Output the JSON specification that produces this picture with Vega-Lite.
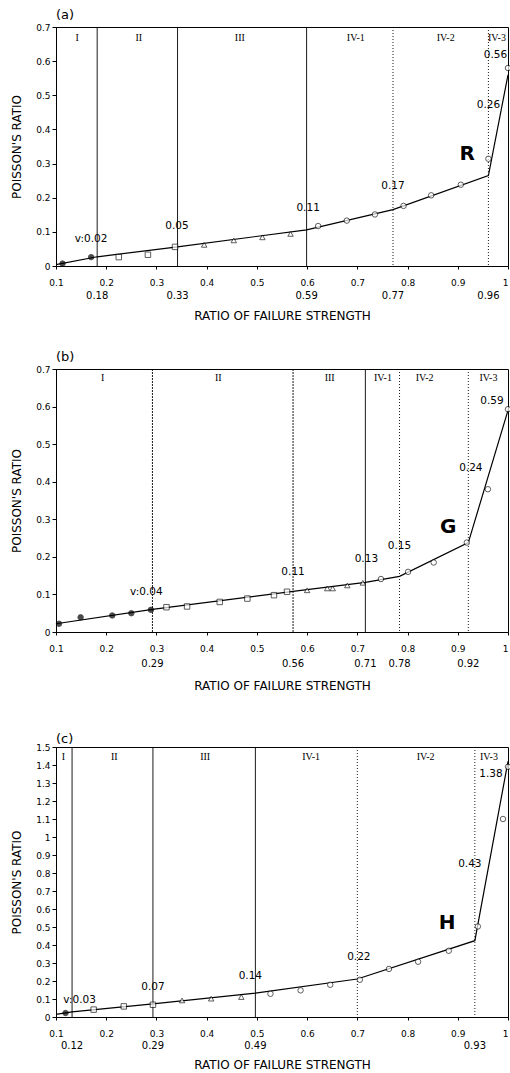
{
  "$schema": "https://vega.github.io/schema/vega-lite/v6.json",
  "background": "white",
  "padding": {"left": 10, "top": 8, "right": 0, "bottom": 0},
  "spacing": 28,
  "config": {
    "view": {"stroke": "#000", "strokeWidth": 1},
    "axis": {"domainColor": "#000", "tickColor": "#000", "labelColor": "#000", "titleColor": "#000", "labelFont": "DejaVu Sans", "titleFont": "DejaVu Sans", "titleFontWeight": "normal", "labelFontSize": 9, "titleFontSize": 12, "grid": false, "labelOverlap": false, "labelBound": false, "labelFlush": false, "labelSeparation": 0, "ticks": true, "tickWidth": 1},
    "axisX": {"tickSize": 3, "labelPadding": 9},
    "axisY": {"tickSize": 4, "labelPadding": 2, "labelOverlap": false, "labelLineHeight": 9},
    "text": {"font": "DejaVu Sans", "color": "#000"},
    "title": {"font": "DejaVu Sans", "fontSize": 13, "fontWeight": "normal", "anchor": "start", "frame": "group", "offset": 1, "color": "#000"}
  },
  "datasets": {
    "points": [
      {"panel": "a", "x": 0.113, "y": 0.007, "stage": "I"},
      {"panel": "a", "x": 0.170, "y": 0.026, "stage": "I"},
      {"panel": "a", "x": 0.225, "y": 0.026, "stage": "II"},
      {"panel": "a", "x": 0.283, "y": 0.033, "stage": "II"},
      {"panel": "a", "x": 0.337, "y": 0.056, "stage": "II"},
      {"panel": "a", "x": 0.395, "y": 0.062, "stage": "III"},
      {"panel": "a", "x": 0.454, "y": 0.075, "stage": "III"},
      {"panel": "a", "x": 0.511, "y": 0.084, "stage": "III"},
      {"panel": "a", "x": 0.567, "y": 0.094, "stage": "III"},
      {"panel": "a", "x": 0.622, "y": 0.117, "stage": "IV"},
      {"panel": "a", "x": 0.679, "y": 0.133, "stage": "IV"},
      {"panel": "a", "x": 0.735, "y": 0.151, "stage": "IV"},
      {"panel": "a", "x": 0.792, "y": 0.176, "stage": "IV"},
      {"panel": "a", "x": 0.847, "y": 0.207, "stage": "IV"},
      {"panel": "a", "x": 0.906, "y": 0.238, "stage": "IV"},
      {"panel": "a", "x": 0.961, "y": 0.314, "stage": "IV"},
      {"panel": "a", "x": 1.0, "y": 0.58, "stage": "IV"},
      {"panel": "b", "x": 0.106, "y": 0.022, "stage": "I"},
      {"panel": "b", "x": 0.149, "y": 0.039, "stage": "I"},
      {"panel": "b", "x": 0.212, "y": 0.044, "stage": "I"},
      {"panel": "b", "x": 0.250, "y": 0.050, "stage": "I"},
      {"panel": "b", "x": 0.289, "y": 0.059, "stage": "I"},
      {"panel": "b", "x": 0.320, "y": 0.066, "stage": "II"},
      {"panel": "b", "x": 0.361, "y": 0.068, "stage": "II"},
      {"panel": "b", "x": 0.426, "y": 0.080, "stage": "II"},
      {"panel": "b", "x": 0.481, "y": 0.089, "stage": "II"},
      {"panel": "b", "x": 0.534, "y": 0.098, "stage": "II"},
      {"panel": "b", "x": 0.560, "y": 0.107, "stage": "II"},
      {"panel": "b", "x": 0.600, "y": 0.111, "stage": "III"},
      {"panel": "b", "x": 0.640, "y": 0.116, "stage": "III"},
      {"panel": "b", "x": 0.651, "y": 0.116, "stage": "III"},
      {"panel": "b", "x": 0.680, "y": 0.124, "stage": "III"},
      {"panel": "b", "x": 0.711, "y": 0.131, "stage": "III"},
      {"panel": "b", "x": 0.747, "y": 0.141, "stage": "IV"},
      {"panel": "b", "x": 0.801, "y": 0.160, "stage": "IV"},
      {"panel": "b", "x": 0.852, "y": 0.185, "stage": "IV"},
      {"panel": "b", "x": 0.918, "y": 0.238, "stage": "IV"},
      {"panel": "b", "x": 0.960, "y": 0.380, "stage": "IV"},
      {"panel": "b", "x": 1.0, "y": 0.593, "stage": "IV"},
      {"panel": "c", "x": 0.119, "y": 0.022, "stage": "I"},
      {"panel": "c", "x": 0.175, "y": 0.041, "stage": "II"},
      {"panel": "c", "x": 0.235, "y": 0.059, "stage": "II"},
      {"panel": "c", "x": 0.293, "y": 0.068, "stage": "II"},
      {"panel": "c", "x": 0.351, "y": 0.092, "stage": "III"},
      {"panel": "c", "x": 0.409, "y": 0.102, "stage": "III"},
      {"panel": "c", "x": 0.469, "y": 0.111, "stage": "III"},
      {"panel": "c", "x": 0.527, "y": 0.129, "stage": "IV"},
      {"panel": "c", "x": 0.587, "y": 0.148, "stage": "IV"},
      {"panel": "c", "x": 0.646, "y": 0.179, "stage": "IV"},
      {"panel": "c", "x": 0.705, "y": 0.207, "stage": "IV"},
      {"panel": "c", "x": 0.763, "y": 0.267, "stage": "IV"},
      {"panel": "c", "x": 0.821, "y": 0.307, "stage": "IV"},
      {"panel": "c", "x": 0.882, "y": 0.368, "stage": "IV"},
      {"panel": "c", "x": 0.940, "y": 0.503, "stage": "IV"},
      {"panel": "c", "x": 0.990, "y": 1.10, "stage": "IV"},
      {"panel": "c", "x": 1.0, "y": 1.39, "stage": "IV"}
    ],
    "curve": [
      {"panel": "a", "x": 0.1, "y": 0.004},
      {"panel": "a", "x": 0.182, "y": 0.027},
      {"panel": "a", "x": 0.342, "y": 0.056},
      {"panel": "a", "x": 0.599, "y": 0.106},
      {"panel": "a", "x": 0.771, "y": 0.165},
      {"panel": "a", "x": 0.961, "y": 0.265},
      {"panel": "a", "x": 1.0, "y": 0.56},
      {"panel": "b", "x": 0.1, "y": 0.022},
      {"panel": "b", "x": 0.292, "y": 0.060},
      {"panel": "b", "x": 0.572, "y": 0.108},
      {"panel": "b", "x": 0.716, "y": 0.132},
      {"panel": "b", "x": 0.784, "y": 0.148},
      {"panel": "b", "x": 0.921, "y": 0.238},
      {"panel": "b", "x": 1.0, "y": 0.59},
      {"panel": "c", "x": 0.1, "y": 0.015},
      {"panel": "c", "x": 0.132, "y": 0.028},
      {"panel": "c", "x": 0.293, "y": 0.073},
      {"panel": "c", "x": 0.497, "y": 0.133},
      {"panel": "c", "x": 0.7, "y": 0.211},
      {"panel": "c", "x": 0.934, "y": 0.424},
      {"panel": "c", "x": 1.0, "y": 1.42}
    ],
    "bounds": [
      {"panel": "a", "x": 0.182, "label": "0.18", "kind": "major"},
      {"panel": "a", "x": 0.342, "label": "0.33", "kind": "major"},
      {"panel": "a", "x": 0.599, "label": "0.59", "kind": "major"},
      {"panel": "a", "x": 0.771, "label": "0.77", "kind": "minor"},
      {"panel": "a", "x": 0.961, "label": "0.96", "kind": "minor"},
      {"panel": "b", "x": 0.292, "label": "0.29", "kind": "faint"},
      {"panel": "b", "x": 0.572, "label": "0.56", "kind": "faint"},
      {"panel": "b", "x": 0.716, "label": "0.71", "kind": "major"},
      {"panel": "b", "x": 0.784, "label": "0.78", "kind": "minor"},
      {"panel": "b", "x": 0.921, "label": "0.92", "kind": "minor"},
      {"panel": "c", "x": 0.132, "label": "0.12", "kind": "major"},
      {"panel": "c", "x": 0.293, "label": "0.29", "kind": "major"},
      {"panel": "c", "x": 0.497, "label": "0.49", "kind": "major"},
      {"panel": "c", "x": 0.7, "label": "", "kind": "minor"},
      {"panel": "c", "x": 0.934, "label": "0.93", "kind": "minor"}
    ],
    "regions": [
      {"panel": "a", "x": 0.142, "label": "I"},
      {"panel": "a", "x": 0.265, "label": "II"},
      {"panel": "a", "x": 0.466, "label": "III"},
      {"panel": "a", "x": 0.697, "label": "IV-1"},
      {"panel": "a", "x": 0.876, "label": "IV-2"},
      {"panel": "a", "x": 0.978, "label": "IV-3"},
      {"panel": "b", "x": 0.193, "label": "I"},
      {"panel": "b", "x": 0.423, "label": "II"},
      {"panel": "b", "x": 0.645, "label": "III"},
      {"panel": "b", "x": 0.751, "label": "IV-1"},
      {"panel": "b", "x": 0.834, "label": "IV-2"},
      {"panel": "b", "x": 0.961, "label": "IV-3"},
      {"panel": "c", "x": 0.115, "label": "I"},
      {"panel": "c", "x": 0.216, "label": "II"},
      {"panel": "c", "x": 0.397, "label": "III"},
      {"panel": "c", "x": 0.608, "label": "IV-1"},
      {"panel": "c", "x": 0.836, "label": "IV-2"},
      {"panel": "c", "x": 0.962, "label": "IV-3"}
    ],
    "vlabels": [
      {"panel": "a", "x": 0.170, "y": 0.080, "text": "v:0.02"},
      {"panel": "a", "x": 0.341, "y": 0.118, "text": "0.05"},
      {"panel": "a", "x": 0.602, "y": 0.170, "text": "0.11"},
      {"panel": "a", "x": 0.771, "y": 0.234, "text": "0.17"},
      {"panel": "a", "x": 0.961, "y": 0.472, "text": "0.26"},
      {"panel": "a", "x": 0.975, "y": 0.618, "text": "0.56"},
      {"panel": "b", "x": 0.280, "y": 0.107, "text": "v:0.04"},
      {"panel": "b", "x": 0.572, "y": 0.160, "text": "0.11"},
      {"panel": "b", "x": 0.718, "y": 0.195, "text": "0.13"},
      {"panel": "b", "x": 0.784, "y": 0.229, "text": "0.15"},
      {"panel": "b", "x": 0.926, "y": 0.436, "text": "0.24"},
      {"panel": "b", "x": 0.968, "y": 0.615, "text": "0.59"},
      {"panel": "c", "x": 0.147, "y": 0.095, "text": "v:0.03"},
      {"panel": "c", "x": 0.293, "y": 0.165, "text": "0.07"},
      {"panel": "c", "x": 0.487, "y": 0.226, "text": "0.14"},
      {"panel": "c", "x": 0.703, "y": 0.333, "text": "0.22"},
      {"panel": "c", "x": 0.924, "y": 0.852, "text": "0.43"},
      {"panel": "c", "x": 0.966, "y": 1.35, "text": "1.38"}
    ],
    "letters": [
      {"panel": "a", "x": 0.919, "y": 0.329, "text": "R"},
      {"panel": "b", "x": 0.881, "y": 0.280, "text": "G"},
      {"panel": "c", "x": 0.879, "y": 0.522, "text": "H"}
    ]
  },
  "vconcat": [
    {
      "title": {"text": "(a)"},
      "width": 452,
      "height": 239,
      "layer": [
        {"data": {"name": "curve"}, "transform": [{"filter": "datum.panel == 'a'"}],
         "mark": {"type": "line", "color": "#000", "strokeWidth": 1.2},
         "encoding": {
           "x": {"field": "x", "type": "quantitative", "title": "RATIO OF FAILURE STRENGTH", "scale": {"domain": [0.1, 1], "nice": false},
                 "axis": {"values": [0.1, 0.2, 0.3, 0.4, 0.5, 0.6, 0.7, 0.8, 0.9, 1], "format": "~g", "titlePadding": 23, "labelOverlap": false,
                          "labelAlign": {"condition": {"test": "datum.value >= 1", "value": "right"}, "value": "center"}}},
           "y": {"field": "y", "type": "quantitative", "title": "POISSON'S RATIO", "scale": {"domain": [0, 0.7], "nice": false},
                 "axis": {"values": [0, 0.1, 0.2, 0.3, 0.4, 0.5, 0.6, 0.7], "tickCount": 8, "format": "~g", "titlePadding": 12, "labelOverlap": false}}
         }},
        {"data": {"name": "bounds"}, "transform": [{"filter": "datum.panel == 'a'"}],
         "mark": {"type": "rule", "color": "#000", "strokeWidth": 0.9},
         "encoding": {
           "x": {"field": "x", "type": "quantitative", "title": "RATIO OF FAILURE STRENGTH", "scale": {"domain": [0.1, 1], "nice": false}},
           "strokeDash": {"field": "kind", "type": "nominal", "scale": {"domain": ["major", "minor", "faint"], "range": [[1, 0], [1, 2], [2, 1]]}, "legend": null}
         }},
        {"data": {"name": "bounds"}, "transform": [{"filter": "datum.panel == 'a'"}],
         "mark": {"type": "text", "fontSize": 10, "dy": 30, "baseline": "middle"},
         "encoding": {
           "x": {"field": "x", "type": "quantitative", "title": "RATIO OF FAILURE STRENGTH", "scale": {"domain": [0.1, 1], "nice": false}},
           "y": {"datum": 0, "type": "quantitative", "title": "POISSON'S RATIO", "scale": {"domain": [0, 0.7], "nice": false}},
           "text": {"field": "label"}
         }},
        {"data": {"name": "points"}, "transform": [{"filter": "datum.panel == 'a'"}],
         "mark": {"type": "point", "filled": true, "size": 30, "stroke": "#000", "strokeWidth": 0.9},
         "encoding": {
           "x": {"field": "x", "type": "quantitative", "title": "RATIO OF FAILURE STRENGTH", "scale": {"domain": [0.1, 1], "nice": false}},
           "y": {"field": "y", "type": "quantitative", "title": "POISSON'S RATIO", "scale": {"domain": [0, 0.7], "nice": false}},
           "shape": {"field": "stage", "type": "nominal", "scale": {"domain": ["I", "II", "III", "IV"], "range": ["circle", "square", "triangle-up", "circle"]}, "legend": null},
           "fill": {"field": "stage", "type": "nominal", "scale": {"domain": ["I", "II", "III", "IV"], "range": ["#000", "#fff", "#fff", "#fff"]}, "legend": null}
         }},
        {"data": {"name": "regions"}, "transform": [{"filter": "datum.panel == 'a'"}],
         "mark": {"type": "text", "font": "Liberation Serif", "fontSize": 10, "dy": 11, "baseline": "middle"},
         "encoding": {
           "x": {"field": "x", "type": "quantitative", "title": "RATIO OF FAILURE STRENGTH", "scale": {"domain": [0.1, 1], "nice": false}},
           "y": {"datum": 0.7, "type": "quantitative", "title": "POISSON'S RATIO", "scale": {"domain": [0, 0.7], "nice": false}},
           "text": {"field": "label"}
         }},
        {"data": {"name": "vlabels"}, "transform": [{"filter": "datum.panel == 'a'"}],
         "mark": {"type": "text", "fontSize": 10.5, "baseline": "middle"},
         "encoding": {
           "x": {"field": "x", "type": "quantitative", "title": "RATIO OF FAILURE STRENGTH", "scale": {"domain": [0.1, 1], "nice": false}},
           "y": {"field": "y", "type": "quantitative", "title": "POISSON'S RATIO", "scale": {"domain": [0, 0.7], "nice": false}},
           "text": {"field": "text"}
         }},
        {"data": {"name": "letters"}, "transform": [{"filter": "datum.panel == 'a'"}],
         "mark": {"type": "text", "fontSize": 20, "fontWeight": "bold", "baseline": "middle"},
         "encoding": {
           "x": {"field": "x", "type": "quantitative", "title": "RATIO OF FAILURE STRENGTH", "scale": {"domain": [0.1, 1], "nice": false}},
           "y": {"field": "y", "type": "quantitative", "title": "POISSON'S RATIO", "scale": {"domain": [0, 0.7], "nice": false}},
           "text": {"field": "text"}
         }}
      ]
    },
    {
      "title": {"text": "(b)"},
      "width": 452,
      "height": 263,
      "layer": [
        {"data": {"name": "curve"}, "transform": [{"filter": "datum.panel == 'b'"}],
         "mark": {"type": "line", "color": "#000", "strokeWidth": 1.2},
         "encoding": {
           "x": {"field": "x", "type": "quantitative", "title": ["RATIO OF FAILURE STRENGTH", ""], "scale": {"domain": [0.1, 1], "nice": false},
                 "axis": {"values": [0.1, 0.2, 0.3, 0.4, 0.5, 0.6, 0.7, 0.8, 0.9, 1], "format": "~g", "titlePadding": 27, "titleLineHeight": 12, "labelOverlap": false,
                          "labelAlign": {"condition": {"test": "datum.value >= 1", "value": "right"}, "value": "center"}}},
           "y": {"field": "y", "type": "quantitative", "title": "POISSON'S RATIO", "scale": {"domain": [0, 0.7], "nice": false},
                 "axis": {"values": [0, 0.1, 0.2, 0.3, 0.4, 0.5, 0.6, 0.7], "tickCount": 8, "format": "~g", "titlePadding": 12, "labelOverlap": false}}
         }},
        {"data": {"name": "bounds"}, "transform": [{"filter": "datum.panel == 'b'"}],
         "mark": {"type": "rule", "color": "#000", "strokeWidth": 0.9},
         "encoding": {
           "x": {"field": "x", "type": "quantitative", "title": ["RATIO OF FAILURE STRENGTH", ""], "scale": {"domain": [0.1, 1], "nice": false}},
           "strokeDash": {"field": "kind", "type": "nominal", "scale": {"domain": ["major", "minor", "faint"], "range": [[1, 0], [1, 2], [2, 1]]}, "legend": null}
         }},
        {"data": {"name": "bounds"}, "transform": [{"filter": "datum.panel == 'b'"}],
         "mark": {"type": "text", "fontSize": 10, "dy": 32, "baseline": "middle"},
         "encoding": {
           "x": {"field": "x", "type": "quantitative", "title": ["RATIO OF FAILURE STRENGTH", ""], "scale": {"domain": [0.1, 1], "nice": false}},
           "y": {"datum": 0, "type": "quantitative", "title": "POISSON'S RATIO", "scale": {"domain": [0, 0.7], "nice": false}},
           "text": {"field": "label"}
         }},
        {"data": {"name": "points"}, "transform": [{"filter": "datum.panel == 'b'"}],
         "mark": {"type": "point", "filled": true, "size": 30, "stroke": "#000", "strokeWidth": 0.9},
         "encoding": {
           "x": {"field": "x", "type": "quantitative", "title": ["RATIO OF FAILURE STRENGTH", ""], "scale": {"domain": [0.1, 1], "nice": false}},
           "y": {"field": "y", "type": "quantitative", "title": "POISSON'S RATIO", "scale": {"domain": [0, 0.7], "nice": false}},
           "shape": {"field": "stage", "type": "nominal", "scale": {"domain": ["I", "II", "III", "IV"], "range": ["circle", "square", "triangle-up", "circle"]}, "legend": null},
           "fill": {"field": "stage", "type": "nominal", "scale": {"domain": ["I", "II", "III", "IV"], "range": ["#000", "#fff", "#000", "#fff"]}, "legend": null}
         }},
        {"data": {"name": "regions"}, "transform": [{"filter": "datum.panel == 'b'"}],
         "mark": {"type": "text", "font": "Liberation Serif", "fontSize": 10, "dy": 9, "baseline": "middle"},
         "encoding": {
           "x": {"field": "x", "type": "quantitative", "title": ["RATIO OF FAILURE STRENGTH", ""], "scale": {"domain": [0.1, 1], "nice": false}},
           "y": {"datum": 0.7, "type": "quantitative", "title": "POISSON'S RATIO", "scale": {"domain": [0, 0.7], "nice": false}},
           "text": {"field": "label"}
         }},
        {"data": {"name": "vlabels"}, "transform": [{"filter": "datum.panel == 'b'"}],
         "mark": {"type": "text", "fontSize": 10.5, "baseline": "middle"},
         "encoding": {
           "x": {"field": "x", "type": "quantitative", "title": ["RATIO OF FAILURE STRENGTH", ""], "scale": {"domain": [0.1, 1], "nice": false}},
           "y": {"field": "y", "type": "quantitative", "title": "POISSON'S RATIO", "scale": {"domain": [0, 0.7], "nice": false}},
           "text": {"field": "text"}
         }},
        {"data": {"name": "letters"}, "transform": [{"filter": "datum.panel == 'b'"}],
         "mark": {"type": "text", "fontSize": 20, "fontWeight": "bold", "baseline": "middle"},
         "encoding": {
           "x": {"field": "x", "type": "quantitative", "title": ["RATIO OF FAILURE STRENGTH", ""], "scale": {"domain": [0.1, 1], "nice": false}},
           "y": {"field": "y", "type": "quantitative", "title": "POISSON'S RATIO", "scale": {"domain": [0, 0.7], "nice": false}},
           "text": {"field": "text"}
         }}
      ]
    },
    {
      "title": {"text": "(c)", "offset": -3},
      "width": 452,
      "height": 270,
      "layer": [
        {"data": {"name": "curve"}, "transform": [{"filter": "datum.panel == 'c'"}],
         "mark": {"type": "line", "color": "#000", "strokeWidth": 1.2},
         "encoding": {
           "x": {"field": "x", "type": "quantitative", "title": "RATIO OF FAILURE STRENGTH", "scale": {"domain": [0.1, 1], "nice": false},
                 "axis": {"values": [0.1, 0.2, 0.3, 0.4, 0.5, 0.6, 0.7, 0.8, 0.9, 1], "format": "~g", "titlePadding": 21, "labelOverlap": false,
                          "labelAlign": {"condition": {"test": "datum.value >= 1", "value": "right"}, "value": "center"}}},
           "y": {"field": "y", "type": "quantitative", "title": "POISSON'S RATIO", "scale": {"domain": [0, 1.5], "nice": false},
                 "axis": {"values": [0, 0.1, 0.2, 0.3, 0.4, 0.5, 0.6, 0.7, 0.8, 0.9, 1, 1.1, 1.2, 1.3, 1.4, 1.5], "tickCount": 16, "format": "~g", "titlePadding": 12, "labelOverlap": false}}
         }},
        {"data": {"name": "bounds"}, "transform": [{"filter": "datum.panel == 'c'"}],
         "mark": {"type": "rule", "color": "#000", "strokeWidth": 0.9},
         "encoding": {
           "x": {"field": "x", "type": "quantitative", "title": "RATIO OF FAILURE STRENGTH", "scale": {"domain": [0.1, 1], "nice": false}},
           "strokeDash": {"field": "kind", "type": "nominal", "scale": {"domain": ["major", "minor", "faint"], "range": [[1, 0], [1, 2], [2, 1]]}, "legend": null}
         }},
        {"data": {"name": "bounds"}, "transform": [{"filter": "datum.panel == 'c'"}],
         "mark": {"type": "text", "fontSize": 10, "dy": 29, "baseline": "middle"},
         "encoding": {
           "x": {"field": "x", "type": "quantitative", "title": "RATIO OF FAILURE STRENGTH", "scale": {"domain": [0.1, 1], "nice": false}},
           "y": {"datum": 0, "type": "quantitative", "title": "POISSON'S RATIO", "scale": {"domain": [0, 1.5], "nice": false}},
           "text": {"field": "label"}
         }},
        {"data": {"name": "points"}, "transform": [{"filter": "datum.panel == 'c'"}],
         "mark": {"type": "point", "filled": true, "size": 30, "stroke": "#000", "strokeWidth": 0.9},
         "encoding": {
           "x": {"field": "x", "type": "quantitative", "title": "RATIO OF FAILURE STRENGTH", "scale": {"domain": [0.1, 1], "nice": false}},
           "y": {"field": "y", "type": "quantitative", "title": "POISSON'S RATIO", "scale": {"domain": [0, 1.5], "nice": false}},
           "shape": {"field": "stage", "type": "nominal", "scale": {"domain": ["I", "II", "III", "IV"], "range": ["circle", "square", "triangle-up", "circle"]}, "legend": null},
           "fill": {"field": "stage", "type": "nominal", "scale": {"domain": ["I", "II", "III", "IV"], "range": ["#000", "#fff", "#fff", "#fff"]}, "legend": null}
         }},
        {"data": {"name": "regions"}, "transform": [{"filter": "datum.panel == 'c'"}],
         "mark": {"type": "text", "font": "Liberation Serif", "fontSize": 10, "dy": 10, "baseline": "middle"},
         "encoding": {
           "x": {"field": "x", "type": "quantitative", "title": "RATIO OF FAILURE STRENGTH", "scale": {"domain": [0.1, 1], "nice": false}},
           "y": {"datum": 1.5, "type": "quantitative", "title": "POISSON'S RATIO", "scale": {"domain": [0, 1.5], "nice": false}},
           "text": {"field": "label"}
         }},
        {"data": {"name": "vlabels"}, "transform": [{"filter": "datum.panel == 'c'"}],
         "mark": {"type": "text", "fontSize": 10.5, "baseline": "middle"},
         "encoding": {
           "x": {"field": "x", "type": "quantitative", "title": "RATIO OF FAILURE STRENGTH", "scale": {"domain": [0.1, 1], "nice": false}},
           "y": {"field": "y", "type": "quantitative", "title": "POISSON'S RATIO", "scale": {"domain": [0, 1.5], "nice": false}},
           "text": {"field": "text"}
         }},
        {"data": {"name": "letters"}, "transform": [{"filter": "datum.panel == 'c'"}],
         "mark": {"type": "text", "fontSize": 20, "fontWeight": "bold", "baseline": "middle"},
         "encoding": {
           "x": {"field": "x", "type": "quantitative", "title": "RATIO OF FAILURE STRENGTH", "scale": {"domain": [0.1, 1], "nice": false}},
           "y": {"field": "y", "type": "quantitative", "title": "POISSON'S RATIO", "scale": {"domain": [0, 1.5], "nice": false}},
           "text": {"field": "text"}
         }}
      ]
    }
  ]
}
